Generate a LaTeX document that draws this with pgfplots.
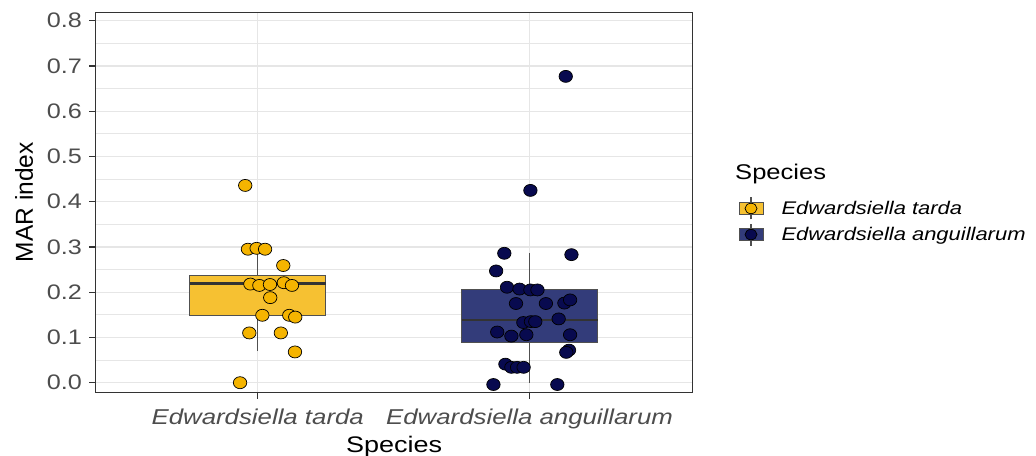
\documentclass[border=0pt]{standalone}
\usepackage{fontspec}
\setmainfont{Liberation Sans}[FakeStretch=1.2]
\newfontfamily\ylabfont{Liberation Sans}
\usepackage{pgfplots}
\pgfplotsset{compat=1.18}
\definecolor{boxA}{HTML}{F6C132}
\definecolor{ptA}{HTML}{F5B400}
\definecolor{boxB}{HTML}{333C7A}
\definecolor{ptB}{HTML}{080A4F}
\definecolor{gridc}{HTML}{E6E6E6}
\definecolor{framec}{HTML}{333333}
\definecolor{ticklab}{HTML}{4D4D4D}
\definecolor{boxline}{HTML}{505050}
\begin{document}
\begin{tikzpicture}
\useasboundingbox (0,0) rectangle (1036bp,456bp);
\begin{axis}[
  at={(95.7bp,63.7bp)}, anchor=south west,
  scale only axis, width=597bp, height=380bp,
  xmin=0.404, xmax=2.6, ymin=-0.0212, ymax=0.8186,
  xtick={1,2},
  xticklabels={Edwardsiella tarda, Edwardsiella anguillarum},
  ytick={0,0.1,0.2,0.3,0.4,0.5,0.6,0.7,0.8},
  yticklabels={0.0,0.1,0.2,0.3,0.4,0.5,0.6,0.7,0.8},
  minor ytick={0.05,0.15,0.25,0.35,0.45,0.55,0.65,0.75},
  xmajorgrids, ymajorgrids, yminorgrids,
  major grid style={draw=gridc, line width=1.3bp},
  minor grid style={draw=gridc, line width=0.7bp},
  tick align=outside, tick pos=left,
  major tick length=6.5bp, minor tick length=0pt,
  tick style={draw=framec, line width=1.1bp},
  axis line style={draw=framec, line width=1.3bp},
  yticklabel style={font=\fontsize{21bp}{24bp}\selectfont, text=ticklab, inner sep=0pt, anchor=east, xshift=-7bp},
  xticklabel style={font=\fontsize{21.5bp}{24bp}\selectfont\itshape, text=ticklab, inner sep=0pt, anchor=base, yshift=-25.5bp},
  xlabel={Species},
  xlabel style={font=\fontsize{22.5bp}{26bp}\selectfont, at={(axis description cs:0.5,-0.159)}, anchor=base, inner sep=0pt},
  ylabel={\ylabfont MAR index},
  ylabel style={font=\fontsize{24.5bp}{27bp}\selectfont, at={(axis description cs:-0.1045,0.5)}, anchor=south, inner sep=0pt},
  legend style={at={(axis description cs:1.0764,0.5147)}, anchor=north west, draw=none, fill=none, inner sep=0pt, font=\fontsize{18.3bp}{21bp}\selectfont\itshape, nodes={inner sep=0pt}, column sep=18bp, row sep=3bp},
  legend cell align=left,
]
\addlegendimage{legend image code/.code={
  \draw[boxline, line width=1.1bp] (12bp,-11bp) -- (12bp,11bp);
  \filldraw[fill=boxA, draw=boxline, line width=1bp] (0bp,-5.8bp) rectangle (24bp,5.8bp);
  \filldraw[fill=ptA, draw=black, line width=0.7bp] (12bp,0bp) ellipse [x radius=6bp, y radius=5.2bp];
}}
\addlegendentry{Edwardsiella tarda}
\addlegendimage{legend image code/.code={
  \draw[boxline, line width=1.1bp] (12bp,-11bp) -- (12bp,11bp);
  \filldraw[fill=boxB, draw=boxline, line width=1bp] (0bp,-5.8bp) rectangle (24bp,5.8bp);
  \filldraw[fill=ptB, draw=black, line width=0.7bp] (12bp,0bp) ellipse [x radius=6bp, y radius=5.2bp];
}}
\addlegendentry{Edwardsiella anguillarum}

% Box 1: E. tarda (whiskers 0.070-0.298, quartiles 0.148-0.238, median 0.219)
\addplot[forget plot, boxline, line width=1.2bp] coordinates {(1,0.238) (1,0.298)};
\addplot[forget plot, boxline, line width=1.2bp] coordinates {(1,0.148) (1,0.070)};
\addplot[forget plot, fill=boxA, draw=boxline, line width=1bp] coordinates {(0.75,0.148) (1.25,0.148) (1.25,0.238) (0.75,0.238)} -- cycle;
\addplot[forget plot, framec, line width=2.4bp] coordinates {(0.75,0.219) (1.25,0.219)};
% Box 2: E. anguillarum (whiskers 0.000-0.287, quartiles 0.088-0.207, median 0.139)
\addplot[forget plot, boxline, line width=1.2bp] coordinates {(2,0.207) (2,0.287)};
\addplot[forget plot, boxline, line width=1.2bp] coordinates {(2,0.088) (2,0.000)};
\addplot[forget plot, fill=boxB, draw=boxline, line width=1bp] coordinates {(1.75,0.088) (2.25,0.088) (2.25,0.207) (1.75,0.207)} -- cycle;
\addplot[forget plot, framec, line width=2.4bp] coordinates {(1.75,0.139) (2.25,0.139)};

\addplot[forget plot, only marks, mark=*, mark size=6bp,
  mark options={xscale=1.12, fill=ptA, draw=black, line width=0.7bp}] coordinates {
(0.954,0.436) (0.964,0.295) (0.996,0.297) (1.027,0.295) (1.094,0.259)
(0.973,0.218) (1.006,0.215) (1.045,0.217) (1.096,0.221) (1.126,0.215)
(1.046,0.188) (1.017,0.149) (1.116,0.149) (1.138,0.145) (0.969,0.110)
(1.085,0.110) (1.137,0.068) (0.935,0.000)
};
\addplot[forget plot, only marks, mark=*, mark size=6bp,
  mark options={xscale=1.12, fill=ptB, draw=black, line width=0.7bp}] coordinates {
(2.133,0.677) (2.003,0.425) (1.907,0.286) (2.154,0.283) (1.877,0.247)
(1.917,0.211) (1.963,0.207) (2.003,0.205) (2.029,0.205) (1.950,0.175)
(2.060,0.175) (2.128,0.176) (2.149,0.183) (2.107,0.141) (1.977,0.133)
(2.005,0.135) (2.021,0.135) (1.881,0.112) (1.933,0.103) (1.988,0.106)
(2.149,0.106) (2.145,0.072) (2.135,0.067) (1.911,0.041) (1.933,0.034)
(1.954,0.034) (1.978,0.034) (1.867,-0.004) (2.102,-0.004)
};
\end{axis}
\node[anchor=base west, inner sep=0pt, font=\fontsize{21.3bp}{24bp}\selectfont] at (735bp,276bp) {Species};
\end{tikzpicture}
\end{document}
